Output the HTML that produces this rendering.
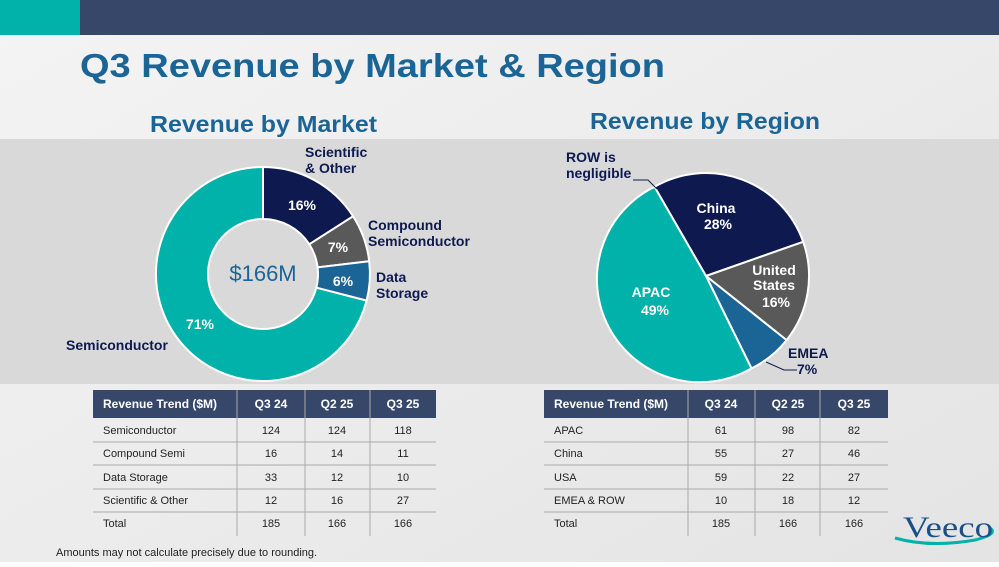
<!DOCTYPE html>
<html><head><meta charset="utf-8"><style>
body{margin:0;width:999px;height:562px;overflow:hidden;font-family:"Liberation Sans",sans-serif;}
</style></head><body>
<svg width="999" height="562" viewBox="0 0 999 562" xmlns="http://www.w3.org/2000/svg" font-family="Liberation Sans, sans-serif">
<defs><linearGradient id="bg" x1="0" y1="0" x2="1" y2="1"><stop offset="0" stop-color="#f4f4f4"/><stop offset="1" stop-color="#e4e4e4"/></linearGradient></defs>
<rect width="999" height="562" fill="url(#bg)"/>
<rect x="0" y="0" width="80" height="35" fill="#00b2a9"/>
<rect x="80" y="0" width="919" height="35" fill="#36476a"/>
<text x="80" y="77" font-size="33" font-weight="bold" fill="#1a6496" textLength="585" lengthAdjust="spacingAndGlyphs">Q3 Revenue by Market &amp; Region</text>
<rect x="0" y="139" width="999" height="245" fill="#d9d9d9"/>
<text x="150" y="132" font-size="23" font-weight="bold" fill="#1a6496" textLength="227" lengthAdjust="spacingAndGlyphs">Revenue by Market</text>
<text x="590" y="129" font-size="23" font-weight="bold" fill="#1a6496" textLength="230" lengthAdjust="spacingAndGlyphs">Revenue by Region</text>
<!-- donut -->
<g transform="translate(263,274)" stroke="#fff" stroke-width="2">
<path d="M0,-107 A107,107 0 0 1 90.1,-57.7 L46.3,-29.7 A55,55 0 0 0 0,-55 Z" fill="#0e1a4f"/>
<path d="M90.1,-57.7 A107,107 0 0 1 106.2,-12.8 L54.6,-6.6 A55,55 0 0 0 46.3,-29.7 Z" fill="#595959"/>
<path d="M106.2,-12.8 A107,107 0 0 1 103.6,26.6 L53.3,13.7 A55,55 0 0 0 54.6,-6.6 Z" fill="#1a6496"/>
<path d="M103.6,26.6 A107,107 0 1 1 0,-107 L0,-55 A55,55 0 1 0 53.3,13.7 Z" fill="#00b2a9"/>
</g>
<text x="263" y="281" font-size="22" fill="#1a6496" text-anchor="middle">$166M</text>
<g font-size="14" font-weight="bold" fill="#fff" text-anchor="middle">
<text x="302" y="210">16%</text><text x="338" y="252">7%</text><text x="343" y="286">6%</text><text x="200" y="329">71%</text>
</g>
<g font-size="14" font-weight="bold" fill="#0e1a4f">
<text x="305" y="157">Scientific</text><text x="305" y="173">&amp; Other</text>
<text x="368" y="230">Compound</text><text x="368" y="246">Semiconductor</text>
<text x="376" y="282">Data</text><text x="376" y="298">Storage</text>
<text x="66" y="350">Semiconductor</text>
</g>
<!-- pie -->
<g transform="translate(706,276)" stroke="#fff" stroke-width="2">
<path d="M0,0 L-51.5,-89.2 A103,103 0 0 1 97.2,-34.2 Z" fill="#0e1a4f"/>
<path d="M0,0 L97.2,-34.2 A103,103 0 0 1 80.6,64.1 Z" fill="#595959"/>
<path d="M0,0 L80.6,64.1 A103,103 0 0 1 45.5,92.4 Z" fill="#1a6496"/>
<path d="M0,0 L45.5,92.4 A103,103 0 1 1 -51.5,-89.2 Z" fill="#00b2a9"/>
</g>
<g font-size="14" font-weight="bold" fill="#fff" text-anchor="middle">
<text x="716" y="213">China</text><text x="718" y="229">28%</text>
<text x="774" y="275">United</text><text x="774" y="290">States</text><text x="776" y="307">16%</text>
<text x="651" y="297">APAC</text><text x="655" y="315">49%</text>
</g>
<g font-size="14" font-weight="bold" fill="#0e1a4f">
<text x="566" y="162">ROW is</text><text x="566" y="178">negligible</text>
<text x="788" y="358">EMEA</text><text x="797" y="374">7%</text>
</g>
<polyline points="633,180 648,180 657,189" fill="none" stroke="#0e1a4f" stroke-width="1"/>
<polyline points="766,362 784,370 797,370" fill="none" stroke="#0e1a4f" stroke-width="1"/>
<!-- tables -->
<g font-size="11" fill="#222">
<g>
<rect x="93" y="390" width="343" height="28" fill="#36476a"/>
<g fill="#fff" font-weight="bold" font-size="12"><text x="103" y="408">Revenue Trend ($M)</text><text x="271" y="408" text-anchor="middle">Q3 24</text><text x="337" y="408" text-anchor="middle">Q2 25</text><text x="403" y="408" text-anchor="middle">Q3 25</text></g>
<g stroke="#aaa" stroke-width="1"><line x1="93" y1="442" x2="436" y2="442"/><line x1="93" y1="465" x2="436" y2="465"/><line x1="93" y1="489" x2="436" y2="489"/><line x1="93" y1="512" x2="436" y2="512"/>
<line x1="237" y1="390" x2="237" y2="536"/><line x1="305" y1="390" x2="305" y2="536"/><line x1="370" y1="390" x2="370" y2="536"/></g>
<text x="103" y="434">Semiconductor</text><text x="271" y="434" text-anchor="middle">124</text><text x="337" y="434" text-anchor="middle">124</text><text x="403" y="434" text-anchor="middle">118</text>
<text x="103" y="457">Compound Semi</text><text x="271" y="457" text-anchor="middle">16</text><text x="337" y="457" text-anchor="middle">14</text><text x="403" y="457" text-anchor="middle">11</text>
<text x="103" y="481">Data Storage</text><text x="271" y="481" text-anchor="middle">33</text><text x="337" y="481" text-anchor="middle">12</text><text x="403" y="481" text-anchor="middle">10</text>
<text x="103" y="504">Scientific &amp; Other</text><text x="271" y="504" text-anchor="middle">12</text><text x="337" y="504" text-anchor="middle">16</text><text x="403" y="504" text-anchor="middle">27</text>
<text x="103" y="527">Total</text><text x="271" y="527" text-anchor="middle">185</text><text x="337" y="527" text-anchor="middle">166</text><text x="403" y="527" text-anchor="middle">166</text>
</g>
<g>
<rect x="544" y="390" width="344" height="28" fill="#36476a"/>
<g fill="#fff" font-weight="bold" font-size="12"><text x="554" y="408">Revenue Trend ($M)</text><text x="721" y="408" text-anchor="middle">Q3 24</text><text x="788" y="408" text-anchor="middle">Q2 25</text><text x="854" y="408" text-anchor="middle">Q3 25</text></g>
<g stroke="#aaa" stroke-width="1"><line x1="544" y1="442" x2="888" y2="442"/><line x1="544" y1="465" x2="888" y2="465"/><line x1="544" y1="489" x2="888" y2="489"/><line x1="544" y1="512" x2="888" y2="512"/>
<line x1="688" y1="390" x2="688" y2="536"/><line x1="755" y1="390" x2="755" y2="536"/><line x1="820" y1="390" x2="820" y2="536"/></g>
<text x="554" y="434">APAC</text><text x="721" y="434" text-anchor="middle">61</text><text x="788" y="434" text-anchor="middle">98</text><text x="854" y="434" text-anchor="middle">82</text>
<text x="554" y="457">China</text><text x="721" y="457" text-anchor="middle">55</text><text x="788" y="457" text-anchor="middle">27</text><text x="854" y="457" text-anchor="middle">46</text>
<text x="554" y="481">USA</text><text x="721" y="481" text-anchor="middle">59</text><text x="788" y="481" text-anchor="middle">22</text><text x="854" y="481" text-anchor="middle">27</text>
<text x="554" y="504">EMEA &amp; ROW</text><text x="721" y="504" text-anchor="middle">10</text><text x="788" y="504" text-anchor="middle">18</text><text x="854" y="504" text-anchor="middle">12</text>
<text x="554" y="527">Total</text><text x="721" y="527" text-anchor="middle">185</text><text x="788" y="527" text-anchor="middle">166</text><text x="854" y="527" text-anchor="middle">166</text>
</g>
</g>
<text x="56" y="556" font-size="11" fill="#222">Amounts may not calculate precisely due to rounding.</text>
<!-- logo -->
<path d="M895,538 Q930,548 975,540 Q999,534 990,528" fill="none" stroke="#00b2a9" stroke-width="3"/>
<text x="903" y="537" font-family="Liberation Serif, serif" font-size="30" fill="#1a4f8a" textLength="90" lengthAdjust="spacingAndGlyphs">Veeco</text>
</svg>
</body></html>
